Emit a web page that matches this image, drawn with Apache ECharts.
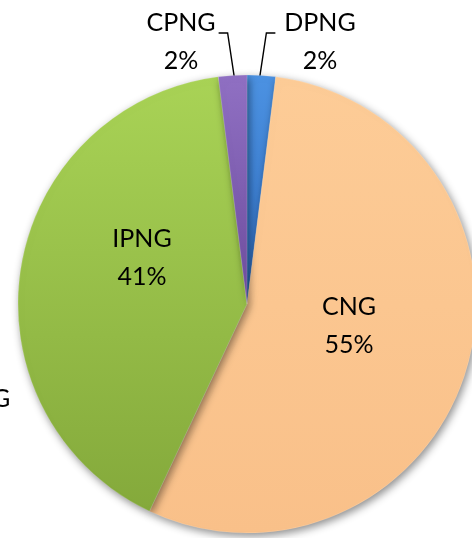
<!DOCTYPE html>
<html>
<head>
<meta charset="utf-8">
<script src="https://cdn.jsdelivr.net/npm/echarts@6/dist/echarts.min.js"></script>
<style>
  html, body { margin: 0; padding: 0; background: #ffffff; }
  #chart { width: 472px; height: 538px; }
</style>
</head>
<body>
<div id="chart"></div>
<script>
// Data (start at top, clockwise)
const categories = ['DPNG', 'CNG', 'IPNG', 'CPNG'];
const values = [2, 55, 41, 2];

const sliceColors = [
  ['#4c92e2', '#2e6cbf'],
  ['#fdcc97', '#f9c089'],
  ['#a9d356', '#84a93b'],
  ['#9070c3', '#6d4d9e']
];
// label anchor positions (text centres) and leader-line side
const labelSpots = [
  { x: 320, y: 42, side: 1 },
  { x: 349, y: 326 },
  { x: 142, y: 258 },
  { x: 181, y: 42, side: -1 }
];

const chart = echarts.init(document.getElementById('chart'), null, { renderer: 'canvas' });

const data = categories.map((name, i) => ({
  name: name,
  value: values[i],
  itemStyle: {
    color: {
      type: 'linear', x: 0, y: 0, x2: 0, y2: 1,
      colorStops: [
        { offset: 0, color: sliceColors[i][0] },
        { offset: 1, color: sliceColors[i][1] }
      ]
    }
  },
  label: { position: labelSpots[i].side ? 'outside' : 'inside' },
  labelLine: { show: !!labelSpots[i].side }
}));

chart.setOption({
  animation: false,
  backgroundColor: '#ffffff',
  graphic: [{
    type: 'text',
    left: -8,
    top: 386,
    style: {
      text: 'G',
      font: '25px Lato',
      fill: '#000000'
    }
  }],
  series: [{
    type: 'pie',
    center: [247, 304],
    radius: 229,
    startAngle: 90,
    clockwise: true,
    data: data,
    itemStyle: {
      shadowBlur: 8,
      shadowOffsetX: 2,
      shadowOffsetY: 3,
      shadowColor: 'rgba(0,0,0,0.45)',
      borderColor: 'rgba(255,255,255,0.25)',
      borderWidth: 0.6
    },
    label: {
      show: true,
      formatter: '{b}\n{d}%',
      fontFamily: 'Lato',
      fontSize: 25,
      lineHeight: 38,
      color: '#000000',
      align: 'center'
    },
    labelLine: {
      show: true,
      length: 10,
      length2: 10,
      lineStyle: { color: '#000000', width: 1.4 }
    },
    labelLayout: function (p) {
      const spot = labelSpots[p.dataIndex];
      const out = { x: spot.x, y: spot.y, align: 'center', verticalAlign: 'middle' };
      if (spot.side && p.labelLinePoints) {
        const s = p.labelLinePoints[0];
        const sx = s[0] - spot.side * 2;
        const sy = s[1] + 4;
        const knee = [sx + spot.side * 7, 33];
        const end = [knee[0] + spot.side * 9, 33];
        out.labelLinePoints = [[sx, sy], knee, end];
      }
      return out;
    }
  }]
});
</script>
</body>
</html>
